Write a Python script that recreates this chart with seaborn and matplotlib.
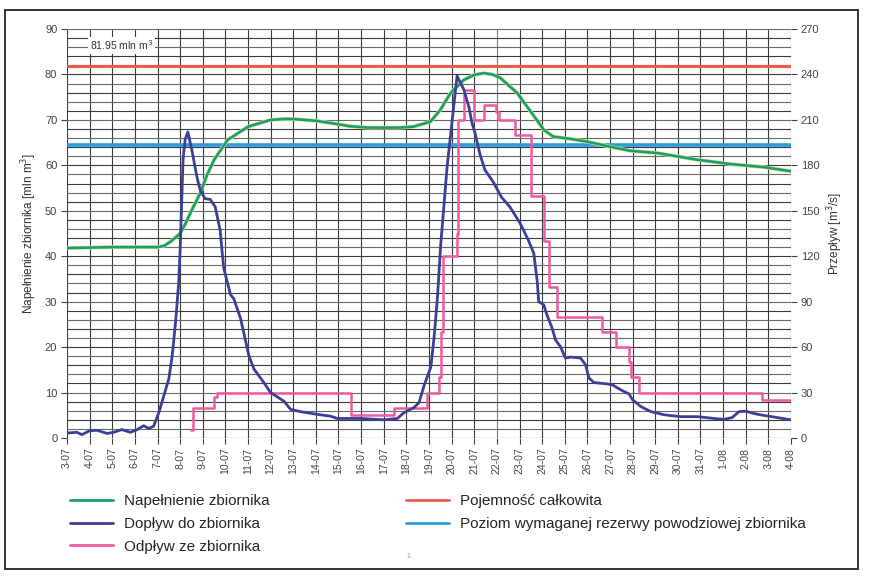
import matplotlib
matplotlib.use("Agg")
import matplotlib.pyplot as plt
import seaborn as sns
import pandas as pd
from matplotlib.patches import Rectangle
from matplotlib.lines import Line2D

# ---------------- data ----------------
date_labels = ["3-07", "4-07", "5-07", "6-07", "7-07", "8-07", "9-07", "10-07", "11-07",
               "12-07", "13-07", "14-07", "15-07", "16-07", "17-07", "18-07", "19-07",
               "20-07", "21-07", "22-07", "23-07", "24-07", "25-07", "26-07", "27-07",
               "28-07", "29-07", "30-07", "31-07", "1-08", "2-08", "3-08", "4-08"]

# Napełnienie zbiornika [mln m3] (day offset from 3-07, value)
fill_t = [0, 2, 4.0, 4.3, 4.6, 5.0, 5.2, 5.5, 5.9, 6.2, 6.5, 7.1, 8.0, 9.0, 9.6, 10.0,
          11.0, 11.8, 12.5, 13.3, 14.7, 15.3, 16.06, 16.5, 16.95, 17.54, 18.0, 18.42,
          18.8, 19.16, 19.9, 20.5, 21.08, 21.5, 22.0, 22.4, 23.0, 24.0, 24.9, 26.1,
          27.9, 29.3, 30.8, 32.0]
fill_v = [41.8, 42.0, 42.0, 42.3, 43.3, 45.0, 46.8, 50.0, 54.0, 58.0, 61.2, 65.6, 68.5,
          70.0, 70.2, 70.2, 69.8, 69.2, 68.6, 68.3, 68.3, 68.5, 69.6, 72.2, 75.9, 78.8,
          79.9, 80.3, 80.0, 79.2, 75.9, 71.8, 67.8, 66.3, 66.0, 65.7, 65.2, 64.1, 63.2,
          62.7, 61.2, 60.3, 59.6, 58.7]

# Dopływ do zbiornika [m3/s]
in_t = [0.0, 0.44, 0.66, 1.0, 1.33, 1.77, 2.06, 2.43, 2.80, 3.10, 3.39, 3.61, 3.83, 4.06,
        4.28, 4.50, 4.65, 4.80, 4.94, 5.0, 5.13, 5.22, 5.34, 5.52, 5.74, 5.88, 6.10,
        6.33, 6.55, 6.77, 6.85, 6.93, 7.23, 7.37, 7.67, 8.04, 8.26, 8.70, 9.0, 9.59,
        9.88, 10.32, 11.06, 11.65, 11.95, 12.98, 14.0, 14.6, 14.9, 15.34, 15.56, 15.78,
        16.08, 16.22, 16.37, 16.52, 16.8, 17.24, 17.54, 17.76, 17.9, 18.04, 18.18,
        18.26, 18.47, 18.84, 19.2, 19.57, 20.02, 20.38, 20.63, 20.78, 20.85, 21.07,
        21.22, 21.44, 21.59, 21.81, 22.03, 22.25, 22.7, 22.92, 23.07, 23.29, 23.88,
        24.1, 24.55, 24.84, 25.0, 25.37, 25.81, 26.4, 27.14, 27.87, 28.6, 29.05, 29.4,
        29.7, 30.0, 30.36, 30.65, 31.39, 31.98]
in_v = [3.3, 3.75, 2.25, 4.8, 5.1, 3.0, 3.75, 5.55, 3.75, 5.55, 8.1, 6.3, 7.8, 16.8,
        27.9, 39, 54.3, 76.8, 103, 124, 184, 197, 202, 190, 172.5, 164, 158, 157.5,
        152.7, 137, 124, 112, 94.5, 92, 79, 54.3, 45.6, 36.6, 30, 24.3, 18.9, 17.4,
        15.6, 14.4, 12.9, 12.9, 12, 12.9, 16.8, 20.1, 23.4, 34.5, 46.8, 65.7, 92, 128,
        179, 239, 230, 218.7, 208, 201, 192, 187, 177, 169, 159, 152.7, 142, 131, 122,
        104, 90, 88, 81, 72.6, 64.8, 60.3, 52.8, 53.4, 52.8, 48.3, 39.6, 36.6, 35.7,
        35.1, 31.2, 29.1, 25.2, 20.7, 17.4, 15.3, 14.1, 14.1, 12.9, 12.3, 13.5, 17.4,
        17.7, 16.2, 15.3, 13.5, 12.0]

# Odpływ ze zbiornika [m3/s] (step changes)
out_t = [5.50, 5.58, 6.49, 6.62, 12.55, 14.45, 15.93, 16.43, 16.55, 16.62, 17.24, 17.30,
         17.54, 17.98, 18.42, 18.95, 19.1, 19.82, 20.49, 21.1, 21.3, 21.67, 23.66, 24.25,
         24.84, 24.95, 25.28, 30.74, 32.0]
out_v = [5, 20, 27, 30, 15, 20, 30, 40, 70, 120, 135, 210, 230, 210, 220, 215, 210, 200,
         160, 130, 100, 80, 70, 60, 50, 40, 30, 25, 25]

capacity = 81.95      # Pojemność całkowita [mln m3]
flood_reserve = 64.4  # Poziom wymaganej rezerwy powodziowej [mln m3]

c_fill = "#1b9c78"
c_in = "#3b3f97"
c_out = "#ee5aa0"
c_cap = "#ef5b4b"
c_res = "#2b9be0"

# ---------------- figure ----------------
sns.set_theme(style="white")
plt.rcParams["font.family"] = ["Liberation Sans", "DejaVu Sans"]

fig = plt.figure(figsize=(8.75, 5.81), dpi=100)
ax = fig.add_axes([67 / 875, 1 - 438 / 581, (791 - 67) / 875, (438 - 29) / 581])
ax2 = ax.twinx()

ax.set_xlim(0, 32)
ax.set_ylim(0, 90)
ax2.set_ylim(0, 270)

# grid
grid_c = "#3a3a3a"
for d in range(0, 33):
    ax.axvline(d, color=("#6f8a4a" if d == 19 else grid_c), lw=0.8, zorder=1)
for v in range(0, 91, 2):
    ax.axhline(v, color=(grid_c if v % 4 == 0 else "#6a6a6a"), lw=0.8, zorder=1)

# horizontal reference lines
ax.axhline(capacity, color=c_cap, lw=2.2, zorder=3)
ax.axhline(flood_reserve, color=c_res, lw=2.6, zorder=3)

# series
fill_df = pd.DataFrame({"t": fill_t, "v": fill_v})
in_df = pd.DataFrame({"t": in_t, "v": in_v})
out_df = pd.DataFrame({"t": out_t, "v": out_v})

sns.lineplot(data=fill_df, x="t", y="v", ax=ax, color="#d8e870", lw=2.8, zorder=4,
             legend=False, estimator=None, sort=False)
sns.lineplot(data=fill_df, x="t", y="v", ax=ax, color=c_fill, lw=1.9, zorder=5,
             legend=False, estimator=None, sort=False)
sns.lineplot(data=out_df, x="t", y="v", ax=ax2, color=c_out, lw=1.8, zorder=4,
             drawstyle="steps-post", legend=False, estimator=None, sort=False)
sns.lineplot(data=in_df, x="t", y="v", ax=ax2, color=c_in, lw=2.0, zorder=5,
             legend=False, estimator=None, sort=False)

ax.set_zorder(ax2.get_zorder() - 1)
ax.patch.set_visible(True)
ax2.patch.set_visible(False)

# ticks
tick_c = "#444444"
ax.set_xticks(range(33))
ax.set_xticklabels(date_labels, rotation=90, fontsize=7.5, color=tick_c)
ax.set_yticks(range(0, 91, 10))
ax.set_yticklabels([str(v) for v in range(0, 91, 10)], fontsize=8, color=tick_c)
ax2.set_yticks(range(0, 271, 30))
ax2.set_yticklabels([str(v) for v in range(0, 271, 30)], fontsize=8, color=tick_c)
for a in (ax, ax2):
    a.tick_params(axis="both", which="major", length=4, width=0.8, color=tick_c, pad=3,
                  left=(a is ax), right=(a is ax2), bottom=(a is ax))
    for s in a.spines.values():
        s.set_visible(False)
ax.set_xlabel("")
ax.set_ylabel("Napełnienie zbiornika [mln m$^3$]", fontsize=8.5, color="#333333")
ax2.set_ylabel("Przepływ [m$^3$/s]", fontsize=8.5, color="#333333")
ax.yaxis.set_label_coords(-0.038, 0.5)
ax2.yaxis.set_label_coords(1.047, 0.5)

# annotation
ax.text(1.0, 86.4, "81.95 mln m$^3$", fontsize=7.5, color="#333333", va="center", ha="left",
        zorder=6, bbox=dict(facecolor="white", edgecolor="none", pad=1.2))

# legend
handles = [Line2D([], [], color=c_fill, lw=2),
           Line2D([], [], color=c_in, lw=2),
           Line2D([], [], color=c_out, lw=2),
           Line2D([], [], color=c_cap, lw=2),
           Line2D([], [], color=c_res, lw=2)]
labels = ["Napełnienie zbiornika", "Dopływ do zbiornika", "Odpływ ze zbiornika",
          "Pojemność całkowita", "Poziom wymaganej rezerwy powodziowej zbiornika"]
fig.legend(handles, labels, ncol=2, loc="upper left",
           bbox_to_anchor=(70 / 875, 1 - 494 / 581), frameon=False, fontsize=11,
           handlelength=2.8, handletextpad=0.75, labelspacing=0.58, columnspacing=8.9,
           borderaxespad=0, borderpad=0)

# outer frame and page mark
fig.add_artist(Rectangle((5 / 875, 1 - 569 / 581), (858 - 5) / 875, (569 - 10) / 581,
                         transform=fig.transFigure, fill=False, edgecolor="#333333", lw=1.4))
fig.text(408 / 875, 1 - 556 / 581, "1", fontsize=5, color="#999999", ha="center", va="center")

fig.savefig("out.png", dpi=100)
